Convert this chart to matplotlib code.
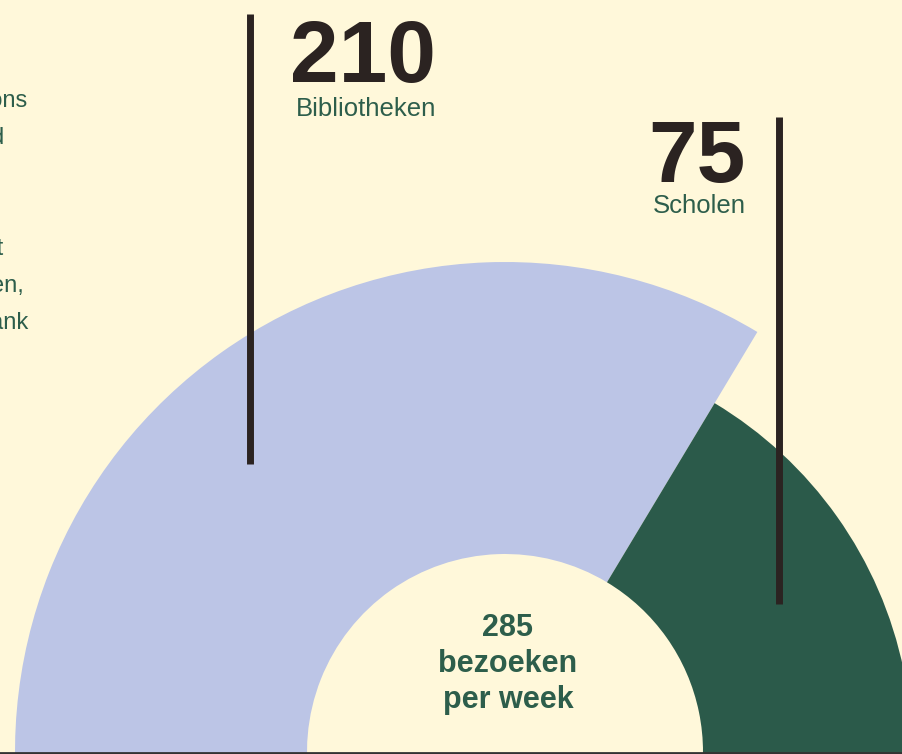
import matplotlib.pyplot as plt
from matplotlib.patches import Wedge

# data
labels = ["Bibliotheken", "Scholen"]
values = [210, 75]
colors = ["#bcc5e6", "#2b5a4a"]
radii = [490, 407]
total_label = ["285", "bezoeken", "per week"]
left_lines = [
    "Wekelijks komen scholieren en bezoekers bij ons",
    "voor verhalen, workshops en spel voor jong en oud",
    "",
    "",
    "Het merendeel vindt plaats in de bibliotheek, maar het",
    "aantal is flink gestegen op de scholen,",
    "en daar zijn we trots op, dank",
]
left_right_edge = [27, 4, 0, 0, 3, 24, 28]

bg = "#fff8da"
dark = "#2b2321"
green_txt = "#2d5e4b"

fig = plt.figure(figsize=(9.03, 7.54), dpi=100, facecolor=bg)
ax = fig.add_axes([0, 0, 1, 1])
ax.set_facecolor(bg)
ax.set_xlim(0, 903)
ax.set_ylim(0, 754)
ax.axis("off")

# donut (full circle, lower part runs out of the picture)
cx, cy = 505, 2
boundary = 59
total = sum(values)
span_lib = values[0] / total * 360
span_sch = values[1] / total * 360
ax.add_patch(Wedge((cx, cy), radii[0], boundary, boundary + span_lib,
                   width=radii[0] - 198, facecolor=colors[0], edgecolor="none"))
ax.add_patch(Wedge((cx, cy), radii[1], boundary - span_sch, boundary,
                   width=radii[1] - 198, facecolor=colors[1], edgecolor="none"))

# pointer lines
ax.plot([250.5, 250.5], [290, 740], color=dark, lw=5, solid_capstyle="butt")
ax.plot([779, 779], [150, 637], color=dark, lw=5, solid_capstyle="butt")

# big numbers + labels
ax.text(290, 672, str(values[0]), fontsize=63, fontweight="bold", color=dark,
        family="Liberation Sans", ha="left", va="baseline")
ax.text(296, 638, labels[0], fontsize=18.5, color=green_txt,
        family="Liberation Sans", ha="left", va="baseline")
ax.text(648, 572, str(values[1]), fontsize=63, fontweight="bold", color=dark,
        family="Liberation Sans", ha="left", va="baseline")
ax.text(653, 541, labels[1], fontsize=18.5, color=green_txt,
        family="Liberation Sans", ha="left", va="baseline")

# centre text
for i, t in enumerate(total_label):
    ax.text(508, 118 - i * 36, t, fontsize=22, fontweight="bold", color=green_txt,
            family="Liberation Sans", ha="center", va="baseline")

# paragraph cut off at the left edge
for i, (t, xr) in enumerate(zip(left_lines, left_right_edge)):
    if t:
        ax.text(xr, 754 - 107 - i * 37, t, fontsize=17, color=green_txt,
                family="Liberation Sans", ha="right", va="baseline")

ax.axhline(1.0, color="#333333", lw=2)

fig.savefig("out.png", dpi=100, facecolor=bg)
